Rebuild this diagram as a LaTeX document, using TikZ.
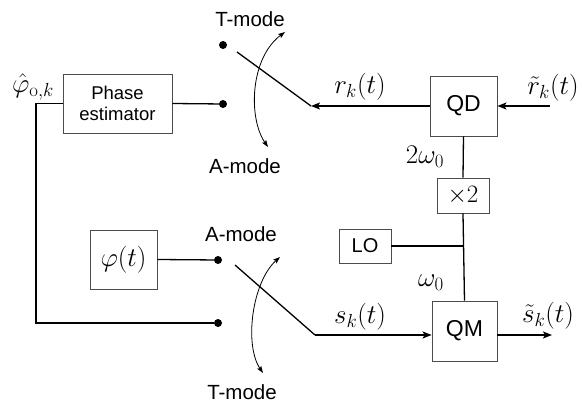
\RequirePackage{fix-cm}
\documentclass[tikz,border=0pt]{standalone}
\usepackage{fontspec}
\setsansfont{Liberation Sans}
\usetikzlibrary{arrows.meta}
\tikzset{
  blk/.style={draw=black!70, line width=0.9pt, rectangle, inner sep=0pt, font=\sffamily\fontsize{20}{24}\selectfont},
  dotnode/.style={circle, fill=black, inner sep=0pt, minimum size=8pt},
  wire/.style={line width=1.3pt},
  arr/.style={wire, -{Stealth[length=9pt,width=7pt,inset=2pt]}},
  modearc/.style={line width=0.8pt, {Stealth[length=7pt,width=5pt,inset=1.5pt]}-{Stealth[length=7pt,width=5pt,inset=1.5pt]}},
  modelbl/.style={font=\sffamily\fontsize{20.5}{24}\selectfont, inner sep=0pt},
  mlbl/.style={font=\fontsize{27}{32}\selectfont, inner sep=0pt}
}
\begin{document}
\begin{tikzpicture}[x=1pt,y=-1pt]
\useasboundingbox (0,0) rectangle (582,403);
% blocks
\node[blk, minimum width=109pt, minimum height=59pt, align=center, font=\sffamily\fontsize{18.5}{21.5}\selectfont] (pe) at (117.5,103.5) {Phase\\[-1pt]estimator};
\node[blk, minimum width=67pt, minimum height=59pt, font=\fontsize{27}{32}\selectfont] (phi) at (123.5,259.5) {$\varphi(t)$};
\node[blk, minimum width=67pt, minimum height=60pt, font=\sffamily\fontsize{23}{27}\selectfont] (qd) at (463.5,106) {QD};
\node[blk, minimum width=52pt, minimum height=35pt, font=\fontsize{25}{30}\selectfont] (x2) at (463,195.5) {$\times 2$};
\node[blk, minimum width=52pt, minimum height=34pt] (lo) at (365,246) {LO};
\node[blk, minimum width=65pt, minimum height=60pt, font=\sffamily\fontsize{23}{27}\selectfont] (qm) at (464.5,331) {QM};
% switch contacts
\node[dotnode] (d1) at (223,45) {};
\node[dotnode] (d2) at (223,104) {};
\node[dotnode] (d3) at (218,260) {};
\node[dotnode] (d4) at (218,323) {};
% coordinates
\coordinate (sb1) at (237,52);
\coordinate (sw1) at (311,106);
\coordinate (rin) at (550,106);
\coordinate (sb2) at (235,265);
\coordinate (sw2) at (315,335);
\coordinate (sout) at (552,335);
\coordinate (fb) at (36,323);
\coordinate (j) at (463,246);
% wires
\draw[wire] (pe.east) -- (d2);
\draw[wire] (phi.east) -- (d3);
\draw[wire] (pe.west) -| (fb) -- (d4);
\draw[wire] (sb1) -- (sw1);
\draw[arr] (qd.west) -- (sw1);
\draw[arr] (rin) -- (qd.east);
\draw[wire] (sb2) -- (sw2);
\draw[arr] (sw2) -- (sw2 -| qm.west);
\draw[arr] (qm.east |- sout) -- (sout);
\draw[wire] (qd.south) -- (x2.north);
\draw[wire] (x2.south) -- (qm.north);
\draw[wire] (lo.east) -- (j);
% mode arcs
\draw[modearc] (268,147) .. controls (248,118) and (250,58) .. (285,32);
\draw[modearc] (280,257) .. controls (252,282) and (244,345) .. (263,373);
% labels
\node[modelbl] (tm1) at (250,19) {T-mode};
\node[modelbl] (am1) at (245,166) {A-mode};
\node[modelbl] (am2) at (241,234) {A-mode};
\node[modelbl] (tm2) at (242,392) {T-mode};
\node[mlbl] (phk) at (33,87) {$\hat{\varphi}_{\mathrm{o},k}$};
\node[mlbl] (rk) at (360,87) {$r_k(t)$};
\node[mlbl] (rtk) at (553,88) {$\tilde{r}_k(t)$};
\node[mlbl] (w2) at (425,157) {$2\omega_0$};
\node[mlbl] (w0) at (431,283) {$\omega_0$};
\node[mlbl] (sk) at (360,317) {$s_k(t)$};
\node[mlbl] (stk) at (548,316) {$\tilde{s}_k(t)$};
\end{tikzpicture}
\end{document}
